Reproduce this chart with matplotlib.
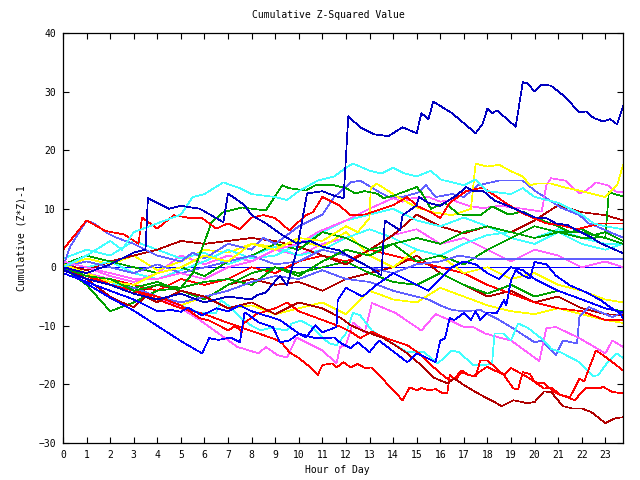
import matplotlib
matplotlib.use('Agg')
import matplotlib.pyplot as plt

# colours used by the chart
DBLUE = '#0000c0'
BLUE = '#0000ff'
SLATE = '#6060ff'
RED = '#ff0000'
DRED = '#b00000'
GREEN = '#00a000'
CYAN = '#40ffff'
YELLOW = '#ffff00'
MAGENTA = '#ff60ff'

HOURS = list(range(24)) + [23.75]

# ---- series (hour, cumulative value) ----
top_h = [0, 1, 2, 3, 4, 5, 6, 7, 8, 8.2, 8.6, 9.2, 9.5, 9.9, 10.35, 11, 11.5, 11.9, 12.1, 12.6, 13.2, 13.8, 14.4, 15.0,
         15.2, 15.5, 15.7, 16.5, 17.5, 17.8, 18.0, 18.2, 18.4, 19.2, 19.5, 19.7, 20.0, 20.3, 20.7, 21.2, 21.9, 22.2,
         22.5, 22.9, 23.2, 23.5, 23.75]
top_v = [-0.5, -2, -3, -4.5, -5.5, -4.5, -6, -5, -5.5, -4.8, -4.3, -1.4, -3.1, 2.6, 12.6, 13, 12.2, 11.8, 25.8, 23.9,
         22.7, 22.4, 23.9, 22.9, 26.3, 25.3, 28.3, 26.3, 22.9, 24.5, 27.1, 26.3, 26.8, 24, 31.6, 31.4, 30, 31.2, 31,
         29.4, 26.5, 26.6, 25.5, 24.9, 25.3, 24.4, 27.5]

dblue2_h = [0, 1, 2, 3, 3.5, 3.6, 4, 4.5, 5, 5.8, 6.8, 7.0, 7.7, 8.0, 8.6, 9.3, 9.9, 10.5, 11.0, 11.7, 12.3, 13.0,
            13.5, 13.65, 14.3, 14.4, 14.8, 15.0, 15.1, 15.5, 16.0, 16.7, 17.1, 17.4, 17.8, 18.3, 18.8, 19.5, 20.0,
            20.5, 20.9, 21.4, 21.8, 22.4, 22.8, 23.3, 23.75]
dblue2_v = [0, -1, 0.5, 2.5, 3, 11.8, 11, 10, 10.5, 10, 7.7, 12.6, 10.6, 8.9, 7.5, 5.5, 4.1, 4.5, 3.5, 2.9, 1.5, 0,
            -1.4, 8, 6.3, 8.9, 10, 10.6, 12, 11, 10.5, 12.3, 13.7, 13, 13.1, 11.4, 10.6, 9.4, 8.5, 8.4, 7.5, 7.2, 6.3,
            5.1, 4.1, 3.2, 2.4]

cyan_hi_h = [0, 1, 2, 2.5, 3, 4, 5, 5.5, 6, 6.8, 7.5, 8, 9, 9.5, 10, 10.8, 11.5, 12, 12.3, 13, 13.5, 14, 14.5, 15,
             15.6, 16, 17, 17.5, 18, 19, 19.5, 20, 21, 21.5, 22, 22.5, 23, 23.75]
cyan_hi_v = [0, 2, 4.5, 3, 6, 7.5, 9, 12, 12.5, 14.5, 13.5, 12.5, 12, 11.5, 13, 14.8, 15.5, 17, 17.7, 16.5, 16, 17,
             16, 15.5, 16.5, 15, 14, 15, 13, 12.5, 13.5, 12, 11, 10, 9, 7.5, 7, 6.5]

red_hi_h = [0, 1, 1.8, 2.6, 3.2, 3.35, 4, 4.7, 5.4, 5.9, 6.5, 7, 7.5, 8, 8.5, 9, 9.6, 10.3, 10.6, 11, 11.7, 12.2,
            12.8, 14, 14.6, 15, 15.6, 16, 16.4, 17.1, 17.8, 18.3, 18.8, 19.4, 19.9, 20.5, 21.1, 21.8, 22.3, 22.9, 23.75]
red_hi_v = [3, 8, 6.2, 5.6, 4, 8.5, 6.6, 8.9, 8.4, 8.4, 6.6, 7.5, 6.5, 8.5, 8.9, 8.4, 6.3, 8.9, 9.4, 12, 10.6, 8.9,
            9, 10.6, 12, 10.5, 9.4, 8.4, 11, 13, 13.6, 12.3, 10.9, 9.4, 8.5, 7.5, 7.2, 6.5, 7, 7.5, 7.5]

green_hi_h = [0, 1, 2, 3, 4, 5, 5.5, 6.0, 6.3, 6.8, 7.6, 8.6, 9.3, 9.6, 10.3, 10.7, 11.5, 12, 12.4, 12.8, 13.3, 13.6,
              14, 15, 15.2, 15.6, 16.2, 16.8, 17.7, 18.2, 18.9, 19.5, 20, 21, 21.5, 22, 22.5, 23, 23.75]
green_hi_v = [0, -1.5, -2, -4, -3, -3.5, -1, 4.3, 7.7, 9.4, 10.2, 9.7, 14, 13.5, 13.1, 14, 14, 13.5, 12.6, 13, 12.6,
              11.8, 12.2, 13.7, 12.8, 10, 11, 9, 8.9, 10.4, 9, 9.5, 8.5, 7, 6, 6.5, 5.5, 6, 4.5]

yellow_hi_h = [0, 1, 2, 3, 4, 5, 6, 7, 8, 9, 10, 11, 12, 12.5, 13.0, 13.05, 13.3, 14.2, 15, 15.7, 16.5, 17.3, 17.5,
               18.0, 18.5, 19.0, 19.5, 19.8, 20.1, 20.7, 21.3, 21.9, 23.0, 23.5, 23.75]
yellow_hi_v = [0.5, -1, -2.5, -3, -1, 0, 2, 1, 4, 3, 5, 4.5, 7, 6, 8.4, 13.5, 14.3, 12, 10.2, 9.4, 8.9, 10, 17.7,
               17.2, 17.5, 16.4, 15.5, 14, 14.3, 14.3, 13.6, 13.1, 12, 14, 17.4]

magenta_hi_h = [0, 1, 2, 3, 4, 5, 6, 7, 8, 9, 10, 10.8, 12, 13, 14, 14.4, 14.8, 15.5, 16.0, 16.5, 17.2, 17.8, 18.5,
                19.5, 20.3, 20.5, 20.7, 21.3, 21.9, 22.2, 22.6, 23.1, 23.5, 23.75]
magenta_hi_v = [1, 0, -1, -2, -2, -1, -2, 0, 1, 3, 4, 6, 8, 10, 11.8, 11.2, 11.8, 12, 11.2, 11.5, 10.5, 10.1, 10.5,
                10, 9.5, 14, 15.2, 14.8, 12.6, 13.1, 14.5, 14, 12.8, 12.8]

slate_hi_h = [0, 0.3, 1.0, 1.3, 1.9, 2.3, 3, 3.5, 4, 5, 5.5, 6, 7, 8, 8.5, 9, 10, 11, 11.5, 12.2, 12.6, 13.3, 13.8,
              14.4, 15.1, 15.4, 15.8, 16.5, 17, 17.6, 18.5, 19.5, 20, 20.5, 21.1, 21.9, 22.3, 22.8, 23.3, 23.75]
slate_hi_v = [0, 3.5, 8, 7.5, 5.8, 5, 4, 3, 2, 1, 2.5, 1.5, 4, 3, 5, 4, 7, 9, 12, 14.5, 14.8, 13.1, 12, 12, 12.8, 14,
              12, 12.5, 12, 14, 14.8, 14.8, 13.1, 11.8, 10.2, 8.9, 7.5, 6.7, 5.8, 5.1]

slate_flat_h = list(range(17)) + [16.8, 17.7, 23.75]
slate_flat_v = [0, 1, 0, -1, 0.5, -1, 0, 1, 2, 0.5, 1, 3, 2, 0, -1, 0.5, 1, 2, 1.4, 1.4]

green_end_h = list(range(24)) + [23.15, 23.75]
green_end_v = [0.5, -1, -2, -3.5, -2.5, -4, -5.5, -3, -1, 0, -1.5, 1, 3, 2, 4, 5, 4, 6, 7, 6, 5, 6, 5, 5.1, 12.8,
               12.1]

dred_mid = [0.5, -0.5, 1, 2, 3, 4.5, 4, 4.5, 5, 4.5, 3.5, 2, 0.5, 3, 5.5, 9, 7, 5.8, 7, 6, 8, 10.6, 9.4, 8.9, 8]
cyan_mid = [1.5, 3, 2, 4.5, 3, 1.5, 2.5, 0.5, 2, 3.5, 2, 3, 5, 6.5, 5, 3, 2, 4, 5.5, 6, 5, 6.5, 5, 4, 4]
yellow_mid = [0, 1.5, 0.5, 2, -0.5, 1, 3, 2.5, 4, 3.5, 4.5, 3.5, 6, 2, 0, 3, 2, -1, 0, -2, -1, -3, -4, -5.5, -6]
magenta_mid = [1, 0, -1.5, -2.5, -1, 2, 0.5, 2, 1, 3, 2, 4, 5, 3, 5.5, 6.5, 4, 5, 3, 1, 3, 2, 0, 1, 0]
green_mid = [0, -3, -7.5, -6, -4, -3.5, -2.5, -2, -3, 0, -1, 0, 1, -1, -2.5, -3, -1, -3, -4.5, -3, -5, -4, -5.5, -7,
             -7.5]
red_mid = [0, -1, -2, -3, -4, -2, -3, -2, 0, -1, 1, 2, 1, 3, 2, 1, 0, -1, -3, -4.5, -6, -7, -7.5, -9, -9]
yellow_low = [0, -1.5, -2.5, -4, -5, -6.5, -5, -7, -6.5, -8, -7, -6, -8, -4, -5.5, -6, -3.5, -5, -6.5, -7.5, -8, -7,
              -8, -9, -9.5]
dred_mid2 = [0, -2, -3, -4.5, -3, -4, -5.5, -3, -2, -3, -2.5, -4, -2, -1, 0, 2, -1, -3, -5, -4, -6, -5, -7, -8, -8.2]
cyan_mid2 = [1, 0, 1, -1, -2, -0.5, 1, 3, 1.5, 2, 4, 6, 8, 9, 10, 8, 7, 8.5, 7, 5, 4, 6, 4, 3, 4]
green_mid2 = [0.5, 2, 1, 0, -1, 0, -1.5, 1, 2, 4, 3, 6, 5, 3, 4, 1, 2, 0.5, 3, 5, 7, 6, 6, 5, 4]

blue_b_h = [0, 1, 2, 3, 4, 4.6, 5, 5.3, 5.9, 6.5, 7, 7.5, 8, 9.2, 10, 10.7, 11.5, 11.8, 12.2, 12.5, 13, 13.4, 14.6,
            15, 15.4, 15.8, 16.0, 16.2, 16.4, 16.6, 17.0, 17.3, 17.5, 17.7, 18.0, 18.4, 18.7, 18.8, 19.0, 19.2, 19.5,
            19.8, 20, 20.5, 20.9, 21.5, 22.2, 22.8, 23.2, 23.6, 23.75]
blue_b_v = [-1, -2.5, -4, -5.5, -7.5, -7.3, -7.6, -6.9, -8.2, -7, -7.5, -6.5, -7.5, -9, -11.3, -12.1, -12, -13,
            -13.8, -12.8, -14.5, -12.5, -16.2, -14.7, -15.4, -16.2, -12.5, -12.1, -8.7, -9, -7.8, -9, -7.5, -9, -7.7,
            -7.8, -5.6, -6.5, -2.2, -0.5, -1.4, -1.9, 0.9, 0.5, -1.4, -3.1, -4.3, -5.6, -6.8, -7.8, -8.7]

blue_low_h = [0, 1, 2, 3, 4, 5, 5.9, 6.2, 6.6, 7.1, 7.5, 7.7, 7.9, 8.3, 8.9, 9.2, 9.6, 10.0, 10.3, 10.7, 11.0, 11.6,
              11.65, 12, 12.7, 13.3, 14, 15, 15.5, 16, 16.5, 17, 17.5, 18, 18.5, 19, 19.5, 20, 21, 22, 23, 23.75]
blue_low_v = [0, -2.8, -5.2, -7.4, -10, -12.6, -14.7, -12.1, -12.4, -12, -12.8, -7.7, -8.2, -9.4, -10.2, -12.8,
              -12.5, -11.3, -12, -9.9, -11.1, -10.2, -5.6, -3.5, -5, -3, -1, -3, -4, -2, 0, 1, 0.5, -1, -2, 0, -0.5,
              -2, -4, -5.5, -7, -7.7]

slate_low_h = list(range(16)) + [15.5, 16, 16.5, 17, 17.7, 18.5, 19, 20, 20.3, 20.9, 21.2, 21.8, 21.9, 22.3, 23.3,
                                 23.75]
slate_low_v = [0.5, -1, -3, -3.5, -5, -6, -5, -4, -2.5, -1.5, -2, -0.5, -2, -2.5, -4, -5, -5.5, -6.5, -7.3, -7.5,
               -7.3, -9, -10.2, -12.8, -12.5, -15, -12.5, -13, -8.5, -6.8, -8.5, -7.7]

magenta_low_h = [0, 1, 2, 3, 4, 5, 5.8, 6.6, 7.4, 8.3, 8.6, 9.1, 9.5, 9.9, 11, 11.6, 11.75, 12.0, 12.3, 12.8, 13.1,
                 14.1, 15.2, 15.8, 16.4, 17.0, 17.4, 17.9, 18.5, 19.0, 20.2, 20.5, 20.9, 21.9, 23.0, 23.3, 23.75]
magenta_low_v = [0.5, -1, -2, -4, -5, -7, -9, -11.3, -13.6, -14.7, -13.6, -15, -15.4, -12, -14.2, -16.4, -13.6,
                 -13.3, -9.4, -11.1, -6.1, -7.8, -10.8, -8, -9, -10.2, -10.2, -11.3, -12, -12.5, -16, -10.4, -10.2,
                 -12.1, -14.7, -12.5, -13.6]

cyan_low_h = [0, 1, 2, 3, 4, 5, 5.8, 6.5, 6.7, 7, 7.5, 8, 8.4, 8.8, 9.5, 9.7, 10.1, 10.5, 11, 11.3, 11.6, 12.0, 12.3,
              12.6, 13.1, 13.6, 14.6, 15.3, 15.9, 16.5, 16.8, 17.4, 17.9, 18.2, 18.3, 18.7, 19.0, 19.3, 19.7, 20.4,
              20.7, 21.1, 21.9, 22.5, 22.7, 23.1, 23.5, 23.75]
cyan_low_v = [0, -1.5, -2.5, -4, -5, -6.5, -7.8, -7.8, -5.6, -6.5, -8.5, -10, -10.8, -10.3, -10.8, -9.6, -9.1, -10,
              -12, -13, -13.3, -11.3, -7.8, -8.2, -10.8, -12.1, -14.5, -14.5, -16.4, -14.2, -14.5, -16.7, -16.7,
              -16.4, -11.3, -11.3, -12.5, -9.6, -10.3, -12.5, -13.9, -14.5, -16.2, -18.6, -18.4, -16.2, -14.7, -15.5]

red_low_h = [0, 1, 2, 3, 4, 5, 6, 7, 8.3, 9, 9.3, 9.6, 10, 10.5, 10.8, 11, 11.4, 11.6, 11.9, 12.2, 12.5, 12.8, 13.1,
             14.4, 14.7, 15, 15.2, 15.5, 15.8, 16.1, 16.3, 16.4, 16.6, 16.9, 17.2, 17.5, 17.7, 18.0, 18.7, 19.1, 19.3,
             19.5, 19.8, 20.0, 20.4, 20.9, 21.4, 21.7, 21.9, 22.2, 22.8, 22.9, 23.3, 23.75]
red_low_v = [0, -1.5, -3, -4, -5.5, -7, -8, -9.5, -11.3, -12.3, -13, -14.5, -15.5, -17.1, -18.4, -16.7, -16.4, -17.1,
             -16.2, -17.1, -16.5, -17.2, -17.1, -22.7, -20.5, -21, -20.6, -21, -20.8, -21.5, -21.5, -18.4, -19, -17.6,
             -18.4, -18.6, -15.9, -15.9, -18.4, -20.7, -20.8, -17.9, -18.2, -19.6, -19.8, -21.5, -22.2, -22.7, -21.8,
             -20.6, -20.6, -20.4, -21.3, -21.5]

red_m_h = [0, 1, 2, 3, 4, 5, 5.8, 6.2, 6.6, 7, 7.3, 7.6, 7.65, 8.2, 9, 9.5, 10, 11, 11.8, 12.2, 12.6, 13.1, 13.5, 14,
           14.6, 15.1, 15.7, 16.1, 16.4, 16.7, 16.9, 17.4, 17.9, 18.0, 18.7, 19.0, 19.5, 19.8, 20.4, 20.7, 21.1, 21.5,
           21.9, 22.1, 22.6, 22.9, 23.3, 23.75]
red_m_v = [0, -1, -3, -4, -5, -6.5, -8.7, -9.1, -9.9, -10.8, -10, -11.1, -9.6, -8, -7, -6, -7.5, -9, -10.2, -11,
           -12.1, -11, -11.8, -12.5, -13.3, -14.7, -17, -18.4, -19.3, -18.9, -17.9, -18.6, -17.2, -17, -18.4, -17.2,
           -18.3, -19, -20.7, -20.5, -21.8, -22.2, -19, -19.5, -14.2, -15, -16.2, -17.6]

dred_low_h = [0, 1, 2, 2.5, 3, 3.5, 4, 5, 6, 7, 8, 9, 10, 11, 11.8, 12.2, 12.7, 13.6, 14.2, 14.6, 15.1, 15.7, 16.3,
              16.6, 17, 17.5, 17.9, 18.3, 18.6, 19.1, 19.7, 20, 20.4, 20.7, 21.2, 21.6, 22, 22.4, 23, 23.4, 23.75]
dred_low_v = [0, -2, -5, -6, -6.8, -5, -6, -4, -5, -7, -6, -8, -6, -7, -8.7, -9.9, -10.8, -12.1, -13.6, -14.7, -16.4,
              -18.8, -19.8, -19, -20.1, -21.3, -22.2, -23, -23.7, -22.7, -23.2, -23, -21.2, -21.3, -23.7, -24.1,
              -24.1, -24.7, -26.6, -25.8, -25.6]

series = [
    (HOURS, dred_mid2, DRED), (HOURS, yellow_low, YELLOW), (HOURS, red_mid, RED),
    (HOURS, green_mid, GREEN), (HOURS, magenta_mid, MAGENTA), (HOURS, yellow_mid, YELLOW),
    (HOURS, cyan_mid, CYAN), (HOURS, dred_mid, DRED), (HOURS, cyan_mid2, CYAN), (HOURS, green_mid2, GREEN),
    (slate_flat_h, slate_flat_v, SLATE), (green_end_h, green_end_v, GREEN),
    (slate_low_h, slate_low_v, SLATE), (magenta_low_h, magenta_low_v, MAGENTA),
    (cyan_low_h, cyan_low_v, CYAN), (red_m_h, red_m_v, RED), (red_low_h, red_low_v, RED),
    (dred_low_h, dred_low_v, DRED), (blue_low_h, blue_low_v, BLUE), (blue_b_h, blue_b_v, BLUE),
    (slate_hi_h, slate_hi_v, SLATE), (magenta_hi_h, magenta_hi_v, MAGENTA), (yellow_hi_h, yellow_hi_v, YELLOW),
    (green_hi_h, green_hi_v, GREEN), (red_hi_h, red_hi_v, RED), (cyan_hi_h, cyan_hi_v, CYAN),
    (dblue2_h, dblue2_v, DBLUE), (top_h, top_v, DBLUE),
]

plt.rcParams['font.family'] = 'DejaVu Sans Mono'
plt.rcParams['font.size'] = 7

fig = plt.figure(figsize=(6.4, 4.8), dpi=100)
ax = fig.add_axes([63 / 640, 37 / 480, 560 / 640, 410 / 480])

ax.axhline(0, color=BLUE, lw=0.5, antialiased=False)
for h, v, c in series:
    ax.plot(h, v, color=c, lw=0.5, antialiased=False)

ax.set_xlim(0, 23.75)
ax.set_ylim(-30, 40)
ax.set_xticks(range(24))
ax.set_yticks(range(-30, 41, 10))
ax.tick_params(direction='in', length=4, width=0.8, top=True, right=True, pad=5)
for s in ax.spines.values():
    s.set_linewidth(0.9)

fig.text(328 / 640, 1 - 15 / 480, 'Cumulative Z-Squared Value', ha='center', va='center')
fig.text(337 / 640, 1 - 470 / 480, 'Hour of Day', ha='center', va='center')
fig.text(22 / 640, 1 - 238 / 480, 'Cumulative (Z*Z)-1', ha='center', va='center', rotation=90)

fig.savefig('out.png', dpi=100)
